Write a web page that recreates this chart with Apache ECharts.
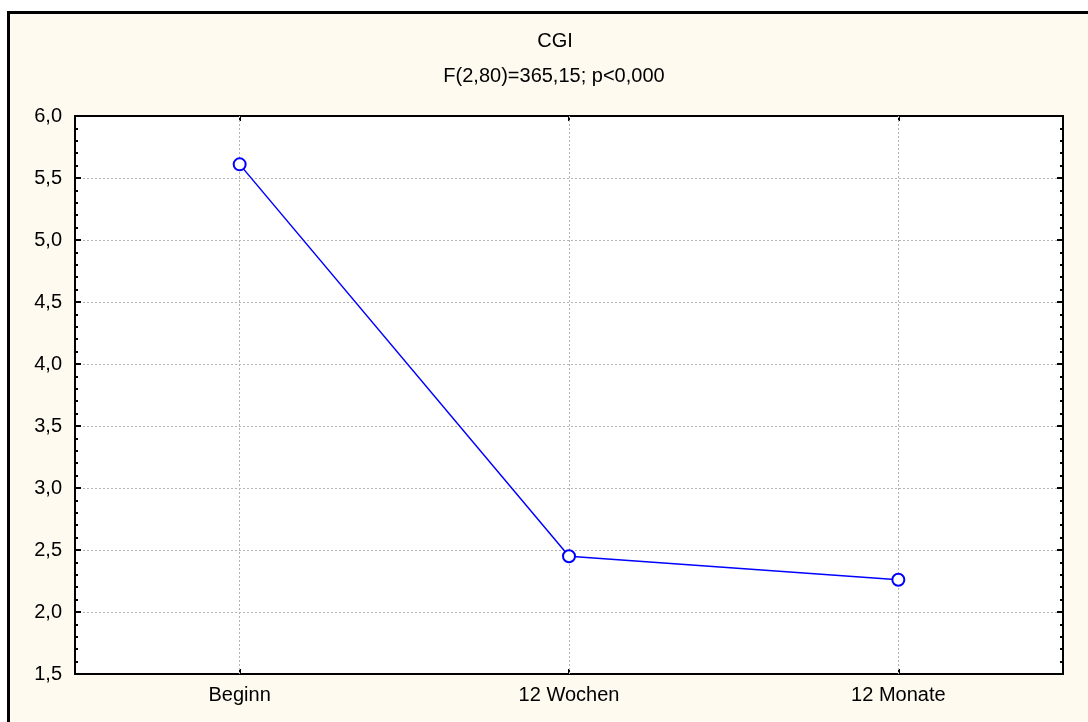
<!DOCTYPE html>
<html>
<head>
<meta charset="utf-8">
<script src="https://cdn.jsdelivr.net/npm/echarts@6/dist/echarts.min.js"></script>
<style>
html,body{margin:0;padding:0;background:#ffffff;}
#frame{position:absolute;left:7px;top:11px;width:1081px;height:711px;box-sizing:border-box;background:#fffaf0;border-left:3px solid #000;border-top:3px solid #000;}
#chart{position:absolute;left:0;top:0;width:1088px;height:722px;}
</style>
</head>
<body>
<div id="frame"></div>
<div id="chart"></div>
<script>
const titleText = 'CGI';
const subtitleText = 'F(2,80)=365,15; p<0,000';
const categories = ['Beginn', '12 Wochen', '12 Monate'];
const cgiValues = [5.61, 2.45, 2.26];
const yMin = 1.5, yMax = 6.0, yStep = 0.5;

const fontFam = '"Liberation Sans", Arial, sans-serif';
const chart = echarts.init(document.getElementById('chart'), null, {renderer:'canvas'});
const fmt = v => v.toFixed(1).replace('.', ',');
const gridLine = {color:'#b4b4b4', width:1, type:[2,2]};

chart.setOption({
  backgroundColor:'transparent',
  animation:false,
  title:[
    {text:titleText, left:550, top:26, textAlign:'center',
     textStyle:{fontFamily:fontFam, fontSize:20, fontWeight:'normal', color:'#000'}},
    {text:subtitleText, left:549, top:61, textAlign:'center',
     textStyle:{fontFamily:fontFam, fontSize:20, fontWeight:'normal', color:'#000'}}
  ],
  grid:{left:75, right:25, top:116, bottom:48, show:true, backgroundColor:'#ffffff', borderColor:'#000', borderWidth:2},
  xAxis:[
    {type:'category', data:categories, position:'bottom', boundaryGap:true,
     axisLine:{lineStyle:{color:'#000', width:2}},
     axisTick:{show:true, inside:true, alignWithLabel:true, length:5, lineStyle:{color:'#000', width:2}},
     axisLabel:{fontFamily:fontFam, fontSize:20, color:'#000', margin:11},
     splitLine:{show:false}},
    {type:'category', data:categories, position:'top', boundaryGap:true,
     axisLine:{lineStyle:{color:'#000', width:2}},
     axisTick:{show:true, inside:true, alignWithLabel:true, length:5, lineStyle:{color:'#000', width:2}},
     axisLabel:{show:false}, splitLine:{show:false}}
  ],
  yAxis:[
    {type:'value', min:yMin, max:yMax, interval:yStep, position:'left',
     axisLine:{show:true, lineStyle:{color:'#000', width:2}},
     axisTick:{show:true, inside:true, length:6, lineStyle:{color:'#000', width:2}},
     minorTick:{show:true, splitNumber:5, length:3, lineStyle:{color:'#000', width:2}},
     axisLabel:{formatter:fmt, fontFamily:fontFam, fontSize:20, color:'#000', margin:13},
     splitLine:{show:true, lineStyle:gridLine}},
    {type:'value', min:yMin, max:yMax, interval:yStep, position:'right',
     axisLine:{show:true, lineStyle:{color:'#000', width:2}},
     axisTick:{show:true, inside:true, length:6, lineStyle:{color:'#000', width:2}},
     minorTick:{show:true, splitNumber:5, length:3, lineStyle:{color:'#000', width:2}},
     axisLabel:{show:false}, splitLine:{show:false}}
  ],
  series:[{
    type:'line', data:cgiValues, xAxisIndex:0, yAxisIndex:0,
    symbol:'emptyCircle', symbolSize:12,
    lineStyle:{color:'#0000ff', width:1.5},
    itemStyle:{color:'#0000ff', borderColor:'#0000ff', borderWidth:1.5},
    z:5,
    markLine:{silent:true, symbol:['none','none'], label:{show:false},
      lineStyle:gridLine, z:1,
      data:categories.map(c => ({xAxis:c}))}
  }]
});
</script>
</body>
</html>
